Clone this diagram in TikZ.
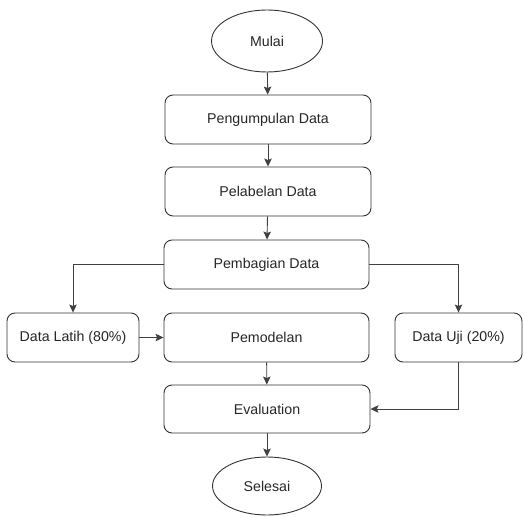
\documentclass[tikz,border=0pt]{standalone}
\usepackage{fontspec}
\setmainfont{Liberation Sans}
\usetikzlibrary{shapes.geometric,arrows.meta}
\begin{document}
\begin{tikzpicture}[x=1pt,y=-1pt,
  font=\fontsize{14.2}{17}\selectfont,
  every node/.style={text=black!85, line width=0.9pt, draw=black!80},
  procbox/.style={rectangle, rounded corners=8pt, inner sep=0pt},
  terminal/.style={ellipse, inner sep=0pt},
  link/.style={draw=black!75, line width=0.9pt, -{Stealth[length=8pt,width=7.5pt,inset=1.5pt]}}]
\useasboundingbox (0,0) rectangle (524,516);

% terminals
\node[terminal, minimum width=111pt, minimum height=62pt] (mulai) at (267,41) {Mulai};
\node[terminal, minimum width=109pt, minimum height=58pt] (selesai) at (267,486) {Selesai};

% main column
\node[procbox, minimum width=206pt, minimum height=49pt] (kumpul) at (268,119.5) {Pengumpulan Data};
\node[procbox, minimum width=206pt, minimum height=49pt] (label) at (268,191.5) {Pelabelan Data};
\node[procbox, minimum width=205pt, minimum height=49pt] (bagi) at (266.5,264.5) {Pembagian Data};
\node[procbox, minimum width=205pt, minimum height=49pt] (model) at (266.5,337.5) {Pemodelan};
\node[procbox, minimum width=206pt, minimum height=48pt] (eval) at (267,409) {Evaluation};

% side boxes
\node[procbox, minimum width=132pt, minimum height=49pt] (latih) at (73,337.5) {Data Latih (80\%)};
\node[procbox, minimum width=127pt, minimum height=49pt] (uji) at (458.5,337.5) {Data Uji (20\%)};

% connectors
\draw[link] (mulai) -- (kumpul);
\draw[link] (kumpul) -- (label);
\draw[link] (label) -- (bagi);
\draw[link] (bagi.west) -| (latih.north);
\draw[link] (bagi.east) -| (uji.north);
\draw[link] (latih) -- (model);
\draw[link] (model) -- (eval);
\draw[link] (uji.south) |- (eval.east);
\draw[link] (eval) -- (selesai);
\end{tikzpicture}
\end{document}
